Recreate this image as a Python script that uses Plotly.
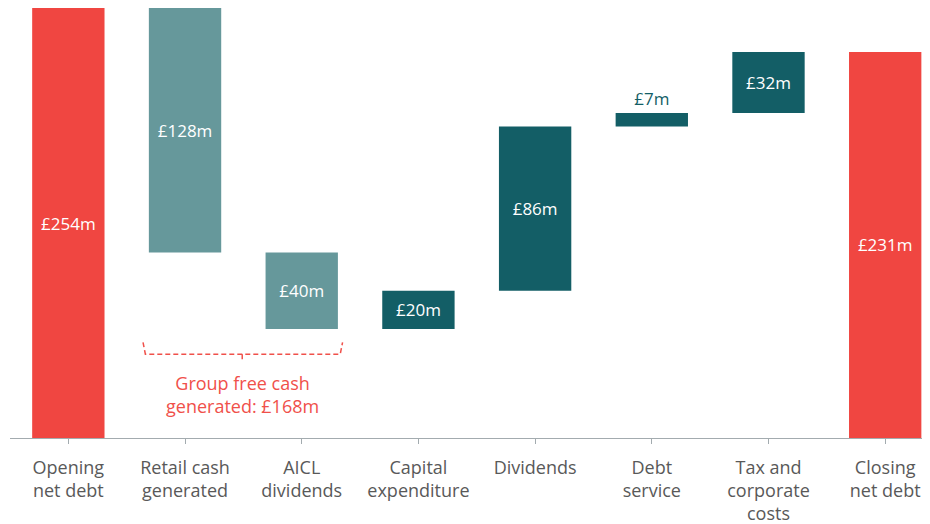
import plotly.graph_objects as go

# Net debt bridge (£m)
categories = [
    "Opening<br>net debt",
    "Retail cash<br>generated",
    "AICL<br>dividends",
    "Capital<br>expenditure",
    "Dividends",
    "Debt<br>service",
    "Tax and<br>corporate<br>costs",
    "Closing<br>net debt",
]
changes = [254, -128, -40, 20, 86, 7, 32, 231]
kinds = ["total", "decrease", "decrease", "increase", "increase", "increase", "increase", "total"]

RED = "#F04641"
LIGHT_TEAL = "#66989B"
DARK_TEAL = "#135E66"
GREY_TEXT = "#595959"

# the value axis is cut off well above zero in the original
Y_FLOOR = 28.9
Y_TOP = 254

# work out where each floating bar sits
bases, heights, colors, labels, positions, label_colors = [], [], [], [], [], []
running = 0
for val, kind in zip(changes, kinds):
    if kind == "total":
        bases.append(Y_FLOOR)
        heights.append(val - Y_FLOOR)
        running = val
        colors.append(RED)
    elif kind == "decrease":
        running += val
        bases.append(running)
        heights.append(-val)
        colors.append(LIGHT_TEAL)
    else:
        bases.append(running)
        heights.append(val)
        running += val
        colors.append(DARK_TEAL)
    labels.append(f"£{abs(val)}m")
    # the thin debt-service bar gets its label above it
    if abs(val) < 10:
        positions.append("outside")
        label_colors.append(DARK_TEAL)
    else:
        positions.append("inside")
        label_colors.append("white")

fig = go.Figure()
fig.add_trace(go.Bar(
    x=list(range(len(categories))),
    y=heights,
    base=bases,
    width=0.62,
    marker=dict(color=colors, line=dict(width=0)),
    text=labels,
    textposition=positions,
    insidetextanchor="middle",
    textfont=dict(color=label_colors, size=17, family="Open Sans"),
    outsidetextfont=dict(color=DARK_TEAL, size=17, family="Open Sans"),
    cliponaxis=False,
    hoverinfo="skip",
))

# bracket under the two cash-generation bars
bracket_color = "#F0504A"
dash = dict(color=bracket_color, width=1.5, dash="5px,3px")
fig.add_shape(type="path", xref="x", yref="y",
              path="M 0.64,79 L 0.66,72.8 L 2.33,72.8 L 2.35,79",
              line=dash)
fig.add_shape(type="line", xref="x", yref="y",
              x0=1.49, x1=1.49, y0=72.8, y1=69, line=dash)
fig.add_annotation(
    x=1.49, y=51.5, xref="x", yref="y",
    text="Group free cash<br>generated: £168m",
    showarrow=False,
    font=dict(color=bracket_color, size=18, family="Open Sans"),
    align="center",
)

# page body has an 8px margin, so the figure is sized to the visible area
fig.update_layout(
    width=922,
    height=516,
    margin=dict(l=2, r=0, t=0, b=86),
    paper_bgcolor="white",
    plot_bgcolor="white",
    showlegend=False,
    font=dict(family="Open Sans", color=GREY_TEXT, size=18),
    xaxis=dict(
        tickmode="array",
        tickvals=list(range(len(categories))),
        ticktext=categories,
        range=[-0.5, 7.384],
        showgrid=False,
        zeroline=False,
        showline=True,
        linecolor="#A3ABAF",
        linewidth=1,
        ticks="outside",
        tickson="boundaries",
        ticklen=5,
        tickcolor="#A3ABAF",
        ticklabelstandoff=8,
        tickfont=dict(size=18, color=GREY_TEXT, family="Open Sans"),
        fixedrange=True,
    ),
    yaxis=dict(
        range=[Y_FLOOR, Y_TOP],
        visible=False,
        showgrid=False,
        zeroline=False,
        fixedrange=True,
    ),
)

fig.write_html("out.html")
